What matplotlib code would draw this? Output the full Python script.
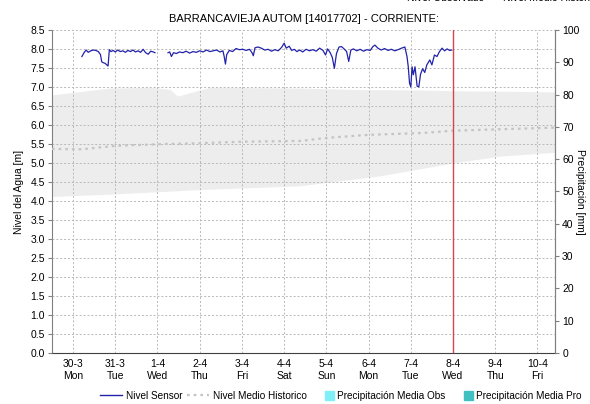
import numpy as np
import matplotlib.pyplot as plt
import matplotlib.patches as mpatches
from matplotlib.lines import Line2D
from matplotlib.legend_handler import HandlerPatch

plt.rcParams['font.family'] = ['Liberation Sans', 'DejaVu Sans']

# days counted from 30-3 00:00
tick_days = list(range(12))
tick_labels = ['30-3\nMon', '31-3\nTue', '1-4\nWed', '2-4\nThu', '3-4\nFri', '4-4\nSat',
               '5-4\nSun', '6-4\nMon', '7-4\nTue', '8-4\nWed', '9-4\nThu', '10-4\nFri']

# sensor level [m]; NaN marks the data gap on 1-4
sensor_days = [0.21, 0.26, 0.31, 0.36, 0.42, 0.48, 0.54, 0.60, 0.65, 0.68, 0.71, 0.76, 0.80,
               0.83, 0.86, 0.90, 0.95, 1.00, 1.06, 1.12, 1.18, 1.24, 1.30, 1.36, 1.42, 1.48,
               1.54, 1.60, 1.66, 1.72, 1.78, 1.84, 1.90, 1.94,
               2.10,
               2.25, 2.29, 2.33, 2.38, 2.45, 2.52, 2.60, 2.68, 2.76, 2.84, 2.92, 3.00, 3.08,
               3.16, 3.24, 3.32, 3.40, 3.48, 3.55, 3.58, 3.61, 3.64, 3.70, 3.78, 3.86, 3.94,
               4.02, 4.10, 4.18, 4.24, 4.27, 4.31, 4.38, 4.46, 4.54, 4.62, 4.70, 4.78, 4.86,
               4.94, 5.00, 5.05, 5.12, 5.18, 5.24, 5.30, 5.37, 5.44, 5.52, 5.60, 5.68, 5.76,
               5.84, 5.92, 5.98, 6.03, 6.09, 6.14, 6.19, 6.24, 6.30, 6.36, 6.42, 6.48, 6.53,
               6.58, 6.64, 6.72, 6.80, 6.88, 6.96, 7.04, 7.10, 7.15, 7.22, 7.30, 7.38, 7.46,
               7.54, 7.62, 7.70, 7.78, 7.86, 7.91, 7.94, 7.97, 8.00, 8.03, 8.06, 8.10, 8.15,
               8.19, 8.23, 8.28, 8.33, 8.38, 8.45, 8.50, 8.56, 8.62, 8.68, 8.74, 8.80, 8.86,
               8.92, 8.97]
sensor_level = [7.80, 7.90, 7.97, 7.91, 7.95, 7.97, 7.96, 7.93, 7.85, 7.66, 7.64, 7.62, 7.58,
                7.55, 7.98, 7.93, 7.96, 7.92, 7.97, 7.93, 7.95, 7.91, 7.96, 7.93, 7.97, 7.92,
                7.95, 7.91, 7.99, 7.90, 7.86, 7.94, 7.92, 7.90,
                np.nan,
                7.90, 7.92, 7.80, 7.90, 7.88, 7.92, 7.90, 7.94, 7.89, 7.93, 7.91, 7.95, 7.92,
                7.97, 7.93, 7.95, 7.97, 7.92, 7.95, 7.80, 7.60, 7.85, 7.96, 7.93, 8.01, 7.98,
                7.99, 7.96, 7.99, 7.90, 7.82, 8.03, 8.05, 8.02, 7.97, 7.99, 7.94, 7.98, 7.95,
                8.04, 8.15, 8.02, 8.07, 7.96, 7.99, 7.93, 7.97, 7.92, 7.99, 7.95, 7.98, 7.94,
                8.02, 7.96, 7.84, 8.00, 7.90, 7.78, 7.49, 7.88, 8.05, 8.06, 8.00, 7.93, 7.67,
                7.97, 8.00, 7.95, 7.99, 7.94, 7.98, 7.96, 8.06, 8.10, 8.02, 7.97, 8.01, 7.96,
                7.99, 7.95, 7.98, 8.02, 8.05, 7.80, 7.53, 7.10, 7.00, 7.53, 7.32, 7.53, 7.02,
                7.00, 7.33, 7.48, 7.38, 7.58, 7.71, 7.58, 7.84, 7.80, 7.93, 8.02, 7.95, 8.00,
                7.96, 7.97]

# historical band and mean
band_days = [-0.5, 0.87, 1.82, 2.29, 2.48, 3.24, 5.37, 6.79, 8.2, 9.0, 11.42]
band_upper = [6.79, 6.97, 6.99, 6.94, 6.76, 6.99, 6.97, 6.93, 6.92, 6.90, 6.87]
band_lower_days = [-0.5, 0.87, 3.0, 5.37, 7.26, 9.0, 10.1, 11.42]
band_lower_vals = [4.12, 4.18, 4.30, 4.40, 4.66, 5.00, 5.18, 5.28]
mean_days = [-0.5, 0.2, 1.0, 2.2, 3.0, 4.0, 5.4, 6.0, 7.0, 8.3, 9.0, 11.42]
mean_level = [5.37, 5.36, 5.45, 5.50, 5.52, 5.56, 5.58, 5.66, 5.74, 5.79, 5.85, 5.93]

now_day = 9.0


def square_patch(legend, orig_handle, xdescent, ydescent, width, height, fontsize):
    # small square sitting at the right end of the handle box
    s = height * 1.2
    return mpatches.Rectangle((width - s - xdescent, -ydescent + (height - s) / 2), s, s)


fig = plt.figure(figsize=(5.9, 4.04), dpi=100)
ax = fig.add_axes([0.088, 0.126, 0.853, 0.8])

all_days = np.array(sorted(set(band_days) | set(band_lower_days)))
ax.fill_between(all_days, np.interp(all_days, band_lower_days, band_lower_vals),
                np.interp(all_days, band_days, band_upper), color='#ededed', lw=0, zorder=1)

mean_style = dict(color='#c4c4c4', lw=1.6, ls=(0, (1.2, 1.8)))
ax.plot(mean_days, mean_level, zorder=3, **mean_style)
ax.plot(sensor_days, sensor_level, color='#2222aa', lw=0.9, zorder=4)
ax.axvline(now_day, color='#d04848', lw=1.0, zorder=5)

ax.set_xlim(-0.5, 11.42)
ax.set_ylim(0, 8.5)
ax.set_xticks(tick_days)
ax.set_xticklabels(tick_labels, fontsize=7.5, linespacing=1.25)
yt = np.arange(0, 8.51, 0.5)
ax.set_yticks(yt)
ax.set_yticklabels([f'{v:.1f}' for v in yt], fontsize=7.5)
ax.grid(True, color='#b8b8b8', ls=(0, (2, 2)), lw=0.7, zorder=2)
ax.set_axisbelow(False)
ax.tick_params(length=3, color='#808080', pad=2)
ax.tick_params(axis='x', length=0, pad=4)
ax.spines['top'].set_visible(False)
ax.spines['left'].set_color('#808080')
ax.spines['right'].set_color('#808080')
ax.spines['bottom'].set_color('#404040')
ax.spines['bottom'].set_linestyle((0, (1, 1)))
ax.set_ylabel('Nivel del Agua [m]', fontsize=7.5, labelpad=5)

ax2 = ax.twinx()
ax2.set_ylim(0, 100)
ax2.set_yticks(range(0, 101, 10))
ax2.set_yticklabels([str(v) for v in range(0, 101, 10)], fontsize=7.5)
ax2.tick_params(length=3, color='#808080', pad=2)
for side in ['top', 'left', 'bottom']:
    ax2.spines[side].set_visible(False)
ax2.spines['right'].set_color('#808080')
ax2.set_ylabel('Precipitación [mm]', fontsize=7.5, rotation=270, labelpad=4)

ax.set_title('BARRANCAVIEJA AUTOM [14017702] - CORRIENTE:', fontsize=8, pad=6)

obs_patch = mpatches.Patch(color='#80f0f8')
pro_patch = mpatches.Patch(color='#40c0c0')
handles = [Line2D([], [], color='#2222aa', lw=1),
           Line2D([], [], **mean_style),
           obs_patch, pro_patch]
fig.legend(handles,
           ['Nivel Sensor', 'Nivel Medio Historico', 'Precipitación Media Obs',
            'Precipitación Media Pro'],
           handler_map={mpatches.Patch: HandlerPatch(patch_func=square_patch)},
           loc='center', bbox_to_anchor=(0.578, 0.02), ncol=4, frameon=False, fontsize=7.2,
           handlelength=2.2, handletextpad=0.35, columnspacing=0.5)

# legend of the panel above, cut by the top edge
fig.text(0.69, 1.004, 'Nivel Observado', fontsize=7.5, va='center')
fig.text(0.853, 1.004, 'Nivel Medio Historico', fontsize=7.5, va='center')

fig.savefig('out.png', dpi=100)
